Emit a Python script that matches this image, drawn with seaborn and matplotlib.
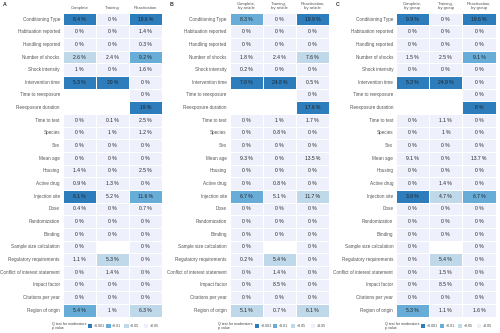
import numpy as np
import pandas as pd
import seaborn as sns
import matplotlib.pyplot as plt
from matplotlib.colors import ListedColormap
from matplotlib.patches import Rectangle

nan = np.nan

rows = ["Conditioning Type", "Habituation reported", "Handling reported", "Number of shocks",
        "Shock intensity", "Intervention time", "Time to reexposure", "Reexposure duration",
        "Time to test", "Species", "Sex", "Mean age", "Housing", "Active drug", "Injection site",
        "Dose", "Randomization", "Blinding", "Sample size calculation", "Regulatory requirements",
        "Conflict of interest statement", "Impact factor", "Citations per year", "Region of origin"]

cols_a = ["Complete", "Training", "Reactivation"]
cols_b = ["Complete,\nby article", "Training,\nby article", "Reactivation,\nby article"]
cols_c = ["Complete,\nby group", "Training,\nby group", "Reactivation,\nby group"]

# Panel A: I2-like percentages
a_complete = [8.4, 0, 0, 2.6, 1, 5.3, nan, nan, 0, 0, 0, 0, 1.4, 0.9, 6.1, 0.4, 0, 0, 0, 1.1, 0, 0, 0, 5.4]
a_training = [0, 0, 0, 2.4, 0, 20, nan, nan, 0.1, 1, 0, 0, 0, 1.3, 5.2, 0, 0, 0, nan, 5.3, 1.4, 0, 0, 1]
a_reactiv = [18.6, 1.4, 0.3, 9.2, 1.6, 0, 0, 19, 2.5, 1.2, 0, 0, 2.5, 0, 11.6, 0.7, 0, 0, 0, 0, 0, 0, 0, 6.3]
# p-value class: 0 = >0.05, 1 = <0.05, 2 = <0.01, 3 = <0.001
a_complete_p = [3, 0, 0, 1, 0, 3, nan, nan, 0, 0, 0, 0, 0, 0, 3, 0, 0, 0, 0, 0, 0, 0, 0, 2]
a_training_p = [0, 0, 0, 0, 0, 3, nan, nan, 0, 0, 0, 0, 0, 0, 0, 0, 0, 0, nan, 1, 0, 0, 0, 0]
a_reactiv_p = [3, 0, 0, 2, 0, 0, 0, 3, 0, 0, 0, 0, 0, 0, 2, 0, 0, 0, 0, 0, 0, 0, 0, 1]

# Panel B: by article
b_complete = [8.3, 0, 0, 1.8, 0.2, 7.8, nan, nan, 0, 0, 0, 9.3, 0, 0, 6.7, 0, 0, 0, 0, 0.2, 0, 0, 0, 5.1]
b_training = [0, 0, 0, 2.4, 0, 24.8, nan, nan, 1, 0.8, 0, 0, 0, 0.8, 5.1, 0, 0, 0, nan, 5.4, 1.4, 8.5, 0, 0.7]
b_reactiv = [19.9, 0, 0, 7.6, 0, 0.5, 0, 17.6, 1.7, 0, 0, 13.5, 0, 0, 11.7, 0, 0, 0, 0, 0, 0, 0, 0, 6.1]
b_complete_p = [2, 0, 0, 0, 0, 3, nan, nan, 0, 0, 0, 0, 0, 0, 2, 0, 0, 0, 0, 0, 0, 0, 0, 1]
b_training_p = [0, 0, 0, 0, 0, 3, nan, nan, 0, 0, 0, 0, 0, 0, 0, 0, 0, 0, nan, 1, 0, 0, 0, 0]
b_reactiv_p = [3, 0, 0, 1, 0, 0, 0, 3, 0, 0, 0, 0, 0, 0, 1, 0, 0, 0, 0, 0, 0, 0, 0, 1]

# Panel C: by group
c_complete = [9.9, 0, 0, 1.5, 0, 5.3, nan, nan, 0, 0, 0, 9.1, 0, 0, 3.8, 0, 0, 0, 0, 0, 0, 0, 0, 5.3]
c_training = [0, 0, 0, 2.5, 0, 24.9, nan, nan, 1.1, 1, 0, 0, 0, 1.4, 4.7, 0, 0, 0, nan, 5.4, 1.5, 8.5, 0, 1.1]
c_reactiv = [19.6, 0, 0, 9.1, 0, 0, 0, 8, 0, 0, 0, 13.7, 0, 0, 6.7, 0, 0, 0, 0, 0, 0, 0, 0, 1.6]
c_complete_p = [3, 0, 0, 0, 0, 3, nan, nan, 0, 0, 0, 0, 0, 0, 3, 0, 0, 0, 0, 0, 0, 0, 0, 2]
c_training_p = [0, 0, 0, 0, 0, 3, nan, nan, 0, 0, 0, 0, 0, 0, 1, 0, 0, 0, nan, 1, 0, 0, 0, 0]
c_reactiv_p = [3, 0, 0, 2, 0, 0, 0, 3, 0, 0, 0, 0, 0, 0, 2, 0, 0, 0, 0, 0, 0, 0, 0, 0]

legend_labels = ["<0.001", "<0.01", "<0.05", ">0.05"]
palette = ["#eef1fb", "#bfd8ea", "#68acd8", "#2d7cbb"]  # >0.05, <0.05, <0.01, <0.001

panels = [
    ("A", cols_a, [a_complete, a_training, a_reactiv], [a_complete_p, a_training_p, a_reactiv_p]),
    ("B", cols_b, [b_complete, b_training, b_reactiv], [b_complete_p, b_training_p, b_reactiv_p]),
    ("C", cols_c, [c_complete, c_training, c_reactiv], [c_complete_p, c_training_p, c_reactiv_p]),
]

sns.set_theme(style="white")
plt.rcParams["font.family"] = ["Liberation Sans", "DejaVu Sans"]

W, H = 500, 333
fig = plt.figure(figsize=(5, 3.33), dpi=100)
cmap = ListedColormap(palette)

lefts = [62.7, 229.5, 396.0]
hm_w = 99.5
hm_top, hm_bot = 12.7, 316.5

def fx(px):
    return px / W

def fy(py):
    return 1 - py / H

for (letter, cols, vals, ps), left in zip(panels, lefts):
    ax = fig.add_axes([fx(left), fy(hm_bot), hm_w / W, (hm_bot - hm_top) / H])
    vdf = pd.DataFrame(np.array(vals, dtype=float).T, index=rows, columns=cols)
    pdf = pd.DataFrame(np.array(ps, dtype=float).T, index=rows, columns=cols)
    annot = vdf.map(lambda v: "" if np.isnan(v) else f"{v:g} %")
    sns.heatmap(pdf, ax=ax, mask=vdf.isna(), cmap=cmap, vmin=-0.5, vmax=3.5,
                annot=annot.values, fmt="", cbar=False, linewidths=0.5, linecolor="white",
                xticklabels=True, yticklabels=True,
                annot_kws={"fontsize": 3.6, "color": "#222222"})
    ax.xaxis.tick_top()
    ax.set_xticklabels(cols, fontsize=3.1, color="#555555", rotation=0, linespacing=1.0)
    ax.set_yticklabels(rows, fontsize=3.3, color="#555555", rotation=0)
    ax.tick_params(length=0, pad=2)
    ax.set_xlabel("")
    ax.set_ylabel("")
    fig.text(fx(left - 60), fy(4.5), letter, fontsize=3.8, fontweight="bold",
             color="#333333", va="center", ha="left")

    # legend below heatmap
    ly = 326.0
    fig.text(fx(left - 11), fy(ly), "Q test for moderators\np value", fontsize=2.6,
             color="#444444", va="center", ha="left", linespacing=1.0)
    xs = [left + 25, left + 43.5, left + 61.5, left + 81]
    for x0, lab, col in zip(xs, legend_labels, palette[::-1]):
        fig.patches.append(Rectangle((fx(x0), fy(ly + 2)), 4.3 / W, 4.3 / H,
                                     transform=fig.transFigure, facecolor=col,
                                     edgecolor="none"))
        fig.text(fx(x0 + 6), fy(ly), lab, fontsize=2.6, color="#444444",
                 va="center", ha="left")

fig.savefig("out.png", dpi=100, facecolor="white")
